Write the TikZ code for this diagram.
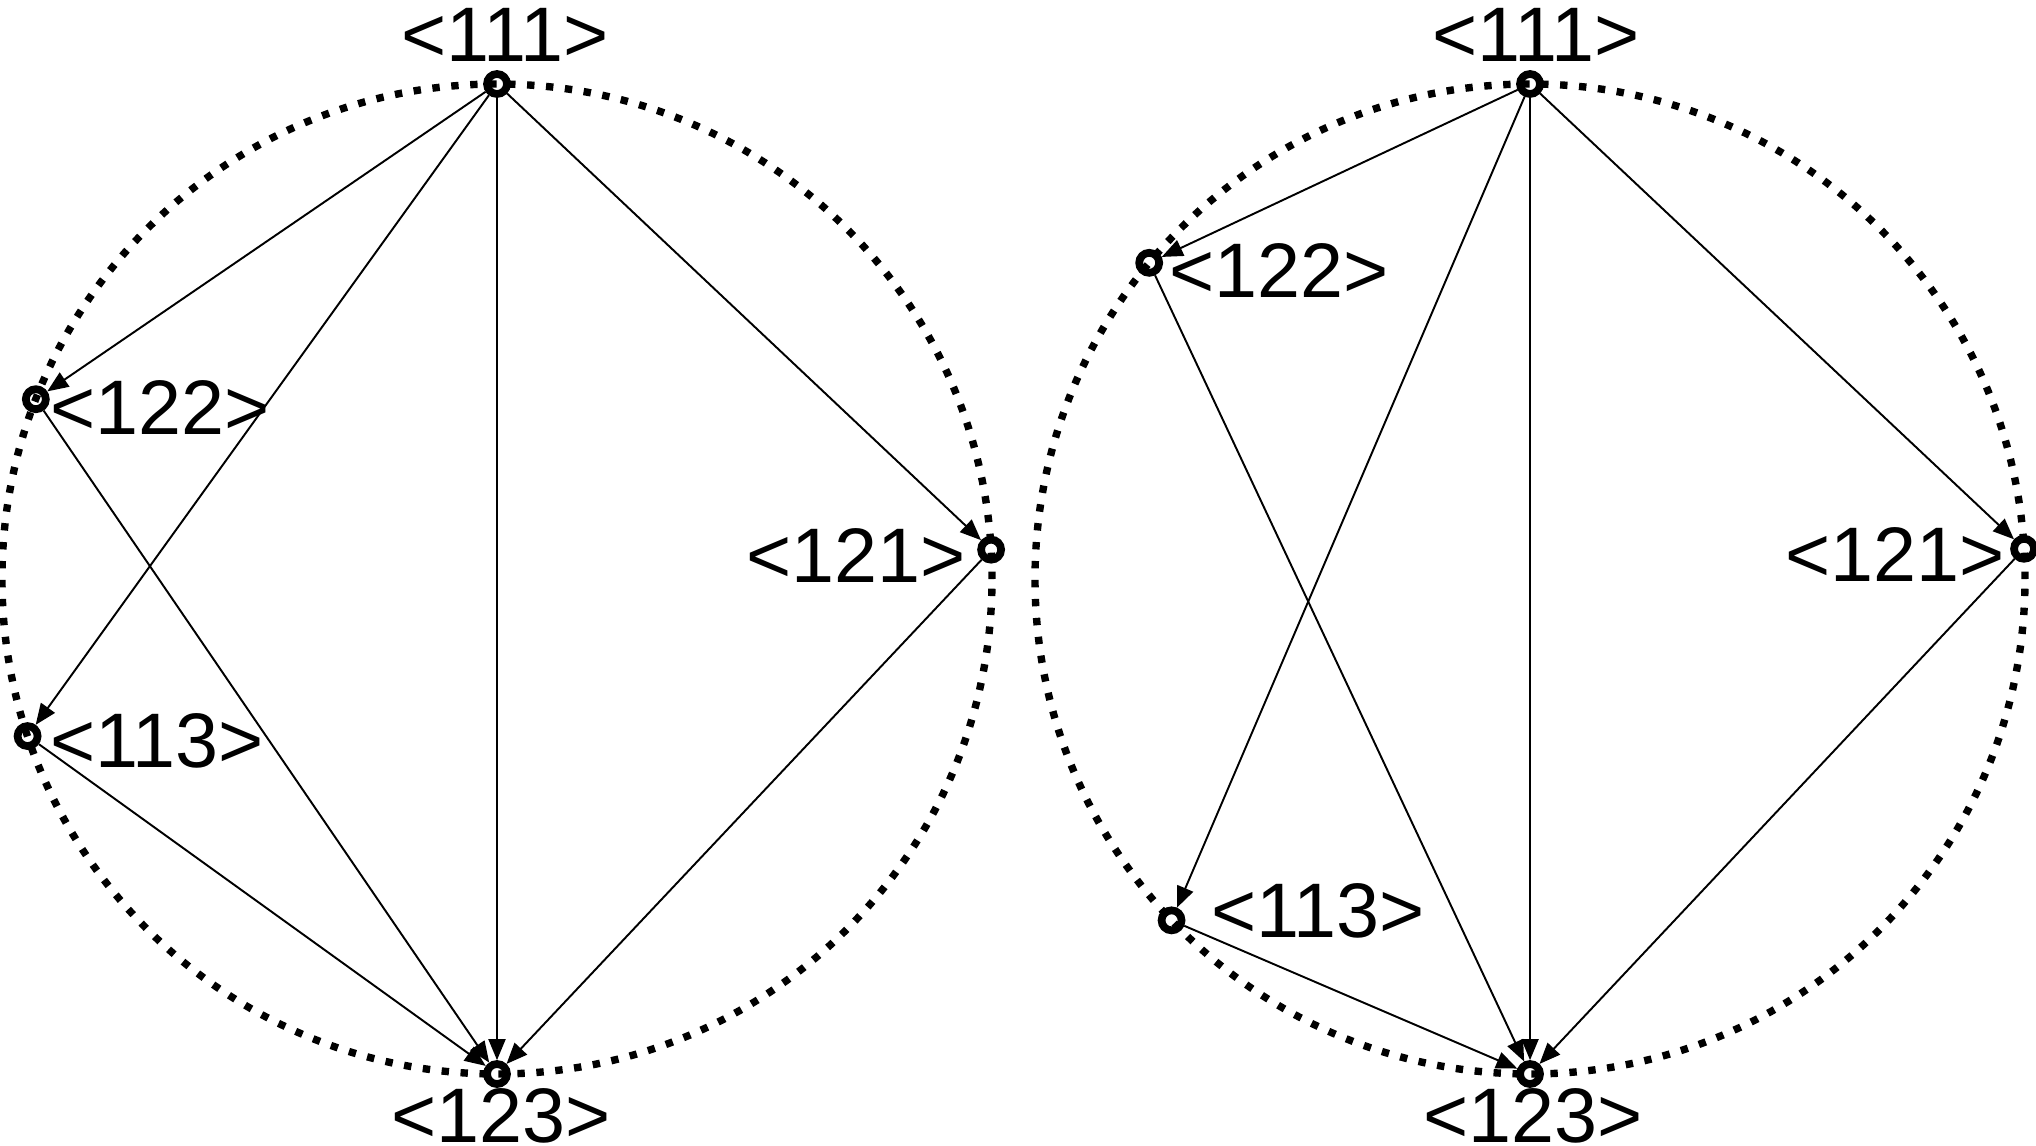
\documentclass[tikz,border=0pt]{standalone}
\usepackage{fontspec}
\setmainfont{Liberation Sans}
\usetikzlibrary{arrows.meta,positioning}

\begin{document}
\begin{tikzpicture}[
    vertex/.style={circle,draw,line width=2.2pt,minimum size=2mm,inner sep=0pt},
    lbl/.style={inner sep=0pt,font=\fontsize{22}{26}\selectfont},
    ring/.style={line width=2.1pt,dash pattern=on 2.1pt off 3.3pt},
    edge/.style={-{Triangle[length=2.1mm,width=1.7mm]},line width=0.55pt}
]
\useasboundingbox (0,0) rectangle (20.36,11.45);

% === LEFT GRAPH ===
\begin{scope}[shift={(4.97,5.66)}]
    \draw[ring] (0,0) circle (4.95);

    % vertices on the ring
    \node[vertex] (a111) at (90:4.95) {};
    \node[vertex] (a122) at (158.7:4.95) {};
    \node[vertex] (a113) at (198.5:4.95) {};
    \node[vertex] (a121) at (3.4:4.95) {};
    \node[vertex] (a123) at (270:4.95) {};

    \node[lbl,above=0.8mm of a111,xshift=0.8mm] (la111) {<111>};
    \node[lbl,right=0mm of a122,yshift=-0.8mm] (la122) {<122>};
    \node[lbl,right=0.8mm of a113,yshift=-0.5mm] (la113) {<113>};
    \node[lbl,left=1.1mm of a121,yshift=-0.6mm] (la121) {<121>};
    \node[lbl,below=0mm of a123,xshift=0.4mm] (la123) {<123>};

    % arrows
    \draw[edge] (a111) -- (a122);
    \draw[edge] (a111) -- (a113);
    \draw[edge] (a111) -- (a123);
    \draw[edge] (a111) -- (a121);
    \draw[edge] (a122) -- (a123);
    \draw[edge] (a113) -- (a123);
    \draw[edge] (a121) -- (a123);
\end{scope}

% === RIGHT GRAPH ===
\begin{scope}[shift={(15.30,5.66)}]
    \draw[ring] (0,0) circle (4.95);

    % vertices on the ring
    \node[vertex] (b111) at (90:4.95) {};
    \node[vertex] (b122) at (140.3:4.95) {};
    \node[vertex] (b113) at (223.6:4.95) {};
    \node[vertex] (b121) at (3.5:4.95) {};
    \node[vertex] (b123) at (270:4.95) {};

    \node[lbl,above=0.8mm of b111,xshift=0.6mm] (lb111) {<111>};
    \node[lbl,right=0.6mm of b122,yshift=-0.75mm] (lb122) {<122>};
    \node[lbl,right=2.5mm of b113,yshift=0.9mm] (lb113) {<113>};
    \node[lbl,left=0.5mm of b121,yshift=-0.6mm] (lb121) {<121>};
    \node[lbl,below=0mm of b123,xshift=0.3mm] (lb123) {<123>};

    % arrows
    \draw[edge] (b111) -- (b122);
    \draw[edge] (b111) -- (b113);
    \draw[edge] (b111) -- (b123);
    \draw[edge] (b111) -- (b121);
    \draw[edge] (b122) -- (b123);
    \draw[edge] (b113) -- (b123);
    \draw[edge] (b121) -- (b123);
\end{scope}

\end{tikzpicture}
\end{document}
